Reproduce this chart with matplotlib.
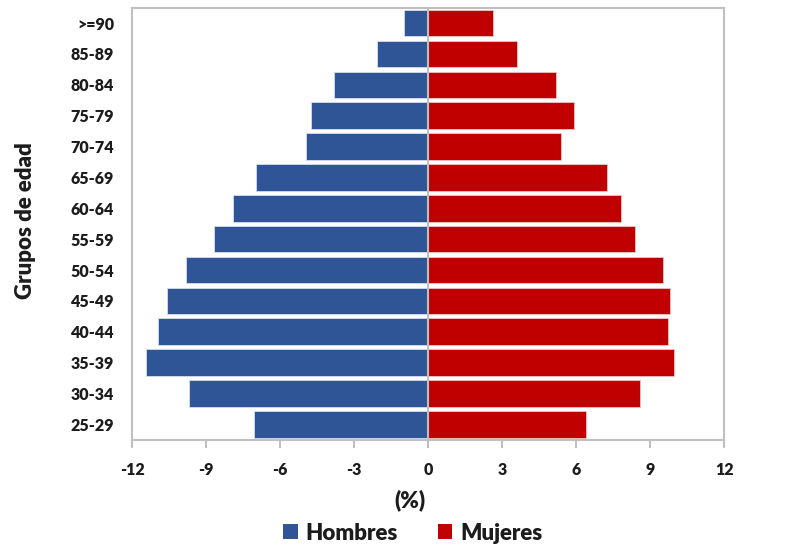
import matplotlib
matplotlib.use("Agg")
import matplotlib.pyplot as plt
from matplotlib.patches import Patch

# Age groups (top to bottom) and share of population (%)
grupos = [">=90", "85-89", "80-84", "75-79", "70-74", "65-69", "60-64",
          "55-59", "50-54", "45-49", "40-44", "35-39", "30-34", "25-29"]
hombres = [1.0, 2.07, 3.80, 4.76, 4.95, 7.00, 7.90,
           8.67, 9.82, 10.57, 10.95, 11.46, 9.70, 7.06]
mujeres = [2.64, 3.60, 5.19, 5.90, 5.40, 7.25, 7.82,
           8.39, 9.53, 9.79, 9.74, 9.98, 8.58, 6.41]
xticks = [-12, -9, -6, -3, 0, 3, 6, 9, 12]

plt.rcParams['font.family'] = ['Lato', 'DejaVu Sans']
text_col = "#1c1c1c"
frame_col = "#bfbfbf"
azul = "#2F5597"
rojo = "#C00000"
peso = 'heavy'

fig = plt.figure(figsize=(8.11, 5.45), dpi=100)
ax = fig.add_axes([0.163, 0.193, 0.730, 0.793])

pos = list(range(len(grupos)))
ax.barh(pos, [-v for v in hombres], height=0.86, color=azul,
        edgecolor="#d6dcef", linewidth=0.6, zorder=2)
ax.barh(pos, mujeres, height=0.86, color=rojo,
        edgecolor="#f2c4c4", linewidth=0.6, zorder=2)
ax.axvline(0, color=frame_col, linewidth=1.5, zorder=3)

ax.set_ylim(len(grupos) - 0.5, -0.5)
ax.set_xlim(-12, 12)
ax.set_xticks(xticks)
ax.set_xticklabels([str(t) for t in xticks])
ax.set_yticks(pos)
ax.set_yticklabels(grupos)

for s in ax.spines.values():
    s.set_color(frame_col)
    s.set_linewidth(1.5)

ax.tick_params(axis='x', direction='out', length=6, width=1.5, color=frame_col,
               labelsize=11.5, labelcolor=text_col, pad=10)
ax.tick_params(axis='y', length=0, labelsize=11.5, labelcolor=text_col, pad=13)
for lab in ax.get_xticklabels() + ax.get_yticklabels():
    lab.set_fontweight(peso)

fig.text(0.505, 1 - 500 / 545, "(%)", fontsize=16, fontweight=peso,
         color=text_col, ha='center', va='center')
fig.text(26 / 811, 1 - 221 / 545, "Grupos de edad", fontsize=16, fontweight=peso,
         color=text_col, ha='center', va='center', rotation=90)

handles = [Patch(facecolor=azul, label="Hombres"), Patch(facecolor=rojo, label="Mujeres")]
leg = fig.legend(handles=handles, loc='center', bbox_to_anchor=(0.509, 0.022), ncol=2,
                 frameon=False, prop={'size': 16, 'weight': peso},
                 handlelength=0.65, handleheight=0.65, handletextpad=0.35, columnspacing=1.8)
for t in leg.get_texts():
    t.set_color(text_col)

fig.savefig("out.png", dpi=100)
